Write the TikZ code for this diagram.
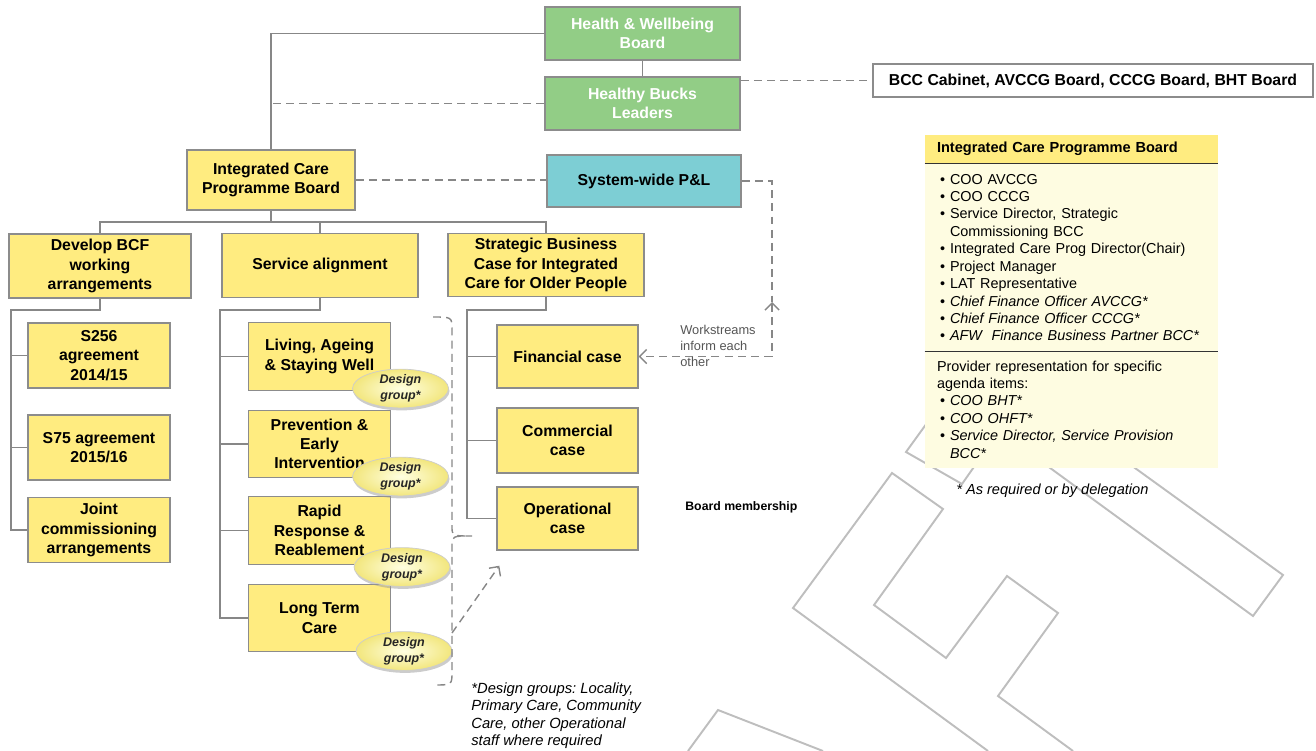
\documentclass[tikz,border=0pt]{standalone}
\usepackage{fontspec}
\setmainfont{Liberation Sans}
\frenchspacing
\usetikzlibrary{arrows.meta,shapes.geometric,shadows}
\definecolor{boxgreen}{RGB}{146,205,134}
\definecolor{boxyellow}{RGB}{255,236,128}
\definecolor{boxcyan}{RGB}{125,206,212}
\definecolor{boxedge}{RGB}{140,140,140}
\definecolor{linegray}{RGB}{135,135,135}
\definecolor{panelcream}{RGB}{254,252,225}
\definecolor{markgray}{RGB}{190,190,190}
\definecolor{notegray}{RGB}{85,85,85}
\definecolor{ovalin}{RGB}{255,255,225}
\definecolor{ovalout}{RGB}{242,230,125}
\newcommand{\pitem}[1]{\makebox[0.26cm][l]{\hspace{0.06cm}\textbullet}#1}
\newcommand{\pcont}[1]{\hspace*{0.26cm}#1}
\tikzset{
    org-box/.style = {draw=boxedge, line width=0.8pt, fill=boxyellow, rectangle, align=center, inner sep=2pt, font=\bfseries\fontsize{9}{11}\selectfont},
    green-box/.style = {org-box, fill=boxgreen, text=white, minimum width=3.9cm, minimum height=1.06cm},
    mid-box/.style = {org-box, minimum width=3.92cm, minimum height=1.27cm},
    leaf-box/.style = {org-box, minimum width=2.84cm, minimum height=1.3cm},
    design-oval/.style = {ellipse, draw=black!20, line width=0.4pt, inner color=ovalin, outer color=ovalout, minimum width=1.92cm, minimum height=0.68cm, inner sep=0pt, align=center, text=black!85, font=\bfseries\itshape\fontsize{7.1}{9}\selectfont, drop shadow={shadow xshift=0.6pt, shadow yshift=-1.4pt, fill=black!40, opacity=0.5}},
    tree-line/.style = {draw=linegray, line width=0.9pt},
    dash-line/.style = {draw=linegray, line width=0.8pt, dash pattern=on 4.5pt off 3pt},
    barb/.style = {-{Straight Barb[length=4pt,width=8pt]}},
    water-mark/.style = {draw=markgray, line width=1.1pt, line join=miter},
    note-text/.style = {inner sep=0pt, align=left},
    panel-head/.style = {fill=boxyellow, minimum width=5.86cm, minimum height=0.56cm, text width=5.38cm, inner xsep=0.24cm, inner ysep=0pt, align=left, font=\bfseries\fontsize{8.3}{10}\selectfont},
    panel-body/.style = {fill=panelcream, minimum width=5.86cm, text width=5.38cm, inner xsep=0.24cm, inner ysep=0pt, align=left, font=\fontsize{8.2}{9.92}\selectfont},
    panel-rule/.style = {draw=black!80, line width=0.9pt},
}

\begin{document}
\begin{tikzpicture}[x=0.02cm, y=-0.02cm]
\useasboundingbox (0,0) rectangle (1316,751);

\draw[water-mark] (988,751) -- (793,608) -- (892,473) -- (943,509) -- (874,605) -- (946,658) -- (1007,576) -- (1058,613) -- (998,696) -- (1073,751);
\draw[water-mark] (940,405) -- (906,452) -- (962,484) -- (990,444);
\draw[water-mark] (1020,446) -- (1253,616) -- (1283,575) -- (1099,442);
\draw[water-mark] (688,751) -- (718,710) -- (823,751);

\node[green-box] (hwb) at (642.5,33.5) {Health \& Wellbeing\\Board};
\node[green-box] (hbl) at (642.5,103.5) {Healthy Bucks\\Leaders};
\node[org-box, fill=white, minimum width=8.8cm, minimum height=0.66cm] (bcc) at (1093,80.5) {BCC Cabinet, AVCCG Board, CCCG Board, BHT Board};
\node[org-box, minimum width=3.36cm, minimum height=1.2cm] (icpb) at (271,180) {Integrated Care\\Programme Board};
\node[org-box, fill=boxcyan, minimum width=3.88cm, minimum height=1.04cm] (pl) at (644,181) {System-wide P\&L};

\node[org-box, minimum width=3.64cm, minimum height=1.28cm] (bcf) at (100,266) {Develop BCF\\working\\arrangements};
\node[mid-box] (sa) at (320,265.5) {Service alignment};
\node[mid-box] (sbc) at (546,265) {Strategic Business\\Case for Integrated\\Care for Older People};

\node[leaf-box] (s256) at (99,355.5) {S256\\agreement\\2014/15};
\node[leaf-box] (s75) at (99,447.5) {S75 agreement\\2015/16};
\node[leaf-box] (jca) at (99,530) {Joint\\commissioning\\arrangements};

\node[leaf-box, minimum height=1.35cm] (lasw) at (319.5,356.5) {Living, Ageing\\\& Staying Well};
\node[leaf-box, minimum height=1.35cm] (pei) at (319.5,444) {Prevention \&\\Early\\Intervention};
\node[leaf-box, minimum height=1.35cm] (rrr) at (319.5,530.5) {Rapid\\Response \&\\Reablement};
\node[leaf-box, minimum height=1.35cm] (ltc) at (319.5,618) {Long Term\\Care};

\node[leaf-box, minimum width=2.82cm, minimum height=1.26cm] (fin) at (567.5,356.5) {Financial case};
\node[leaf-box, minimum width=2.82cm] (com) at (567.5,440.5) {Commercial\\case};
\node[leaf-box, minimum width=2.82cm, minimum height=1.26cm] (opc) at (567.5,518.5) {Operational\\case};

\draw[tree-line] (hwb.west) -| (icpb.north);
\draw[tree-line] (hwb.south) -- (hbl.north);
\draw[dash-line] (hbl.west) -- (icpb.north |- hbl.west);
\draw[dash-line] (hbl.east |- bcc.west) -- (bcc.west);
\draw[dash-line] (icpb.east) -- (icpb.east -| pl.west);

\coordinate (wsmid) at (772,302);
\draw[dash-line] (pl.east) -| (wsmid);
\draw[dash-line, {Straight Barb[length=4pt,width=8pt]}-{Straight Barb[length=4pt,width=8pt]}] (wsmid) |- (fin.east);

\coordinate (topbus) at (271,222);
\draw[tree-line] (icpb.south) -- (topbus);
\draw[tree-line] (bcf.north) |- (sbc.north |- topbus) -- (sbc.north);
\draw[tree-line] (sa.north) -- (sa.north |- topbus);

\coordinate (bcfbus) at (11,310);
\draw[tree-line] (bcf.south) |- (bcfbus) |- (jca.west);
\foreach \b in {s256,s75} \draw[tree-line] (bcfbus |- \b.west) -- (\b.west);

\coordinate (sabus) at (220,310);
\draw[tree-line] (sa.south) |- (sabus) |- (ltc.west);
\foreach \b in {lasw,pei,rrr} \draw[tree-line] (sabus |- \b.west) -- (\b.west);

\coordinate (sbcbus) at (467,310);
\draw[tree-line] (sbc.south) |- (sbcbus) |- (opc.west);
\foreach \b in {fin,com} \draw[tree-line] (sbcbus |- \b.west) -- (\b.west);

\node[design-oval] (dg1) at (400.5,388.5) {Design\\group*};
\node[design-oval] (dg2) at (400.5,476.5) {Design\\group*};
\node[design-oval] (dg3) at (402,567) {Design\\group*};
\node[design-oval] (dg4) at (404,651) {Design\\group*};

\draw[dash-line] (433,317) .. controls (452,317) .. (452,330) -- (452,526) .. controls (452,536) .. (472,536) .. controls (452,536) .. (452,546) -- (452,672) .. controls (452,685) .. (433,685);
\coordinate (dgout) at (452,633);
\draw[dash-line, barb] (dgout) -- ([shift={(3,15)}]opc.south west);

\node[note-text, anchor=north west, text=notegray, font=\fontsize{7.3}{9}\selectfont] (wstext) at (680,325) {Workstreams\\inform each\\other};
\node[note-text, anchor=west, font=\bfseries\fontsize{7}{8}\selectfont] (bmlabel) at (685,507) {Board membership};
\node[note-text, anchor=north west, font=\itshape\fontsize{8.4}{10}\selectfont] (dgnote) at (471,682) {*Design groups: Locality,\\Primary Care, Community\\Care, other Operational\\staff where required};

\node[panel-head] (phead) at (1071.5,149) {Integrated Care Programme Board};
\node[panel-body, minimum height=3.74cm] (pbody) at (1071.5,257.5) {\pitem{COO AVCCG}\\
\pitem{COO CCCG}\\
\pitem{Service Director, Strategic}\\
\pcont{Commissioning BCC}\\
\pitem{Integrated Care Prog Director(Chair)}\\
\pitem{Project Manager}\\
\pitem{LAT Representative}\\
\pitem{\textit{Chief Finance Officer AVCCG*}}\\
\pitem{\textit{Chief Finance Officer CCCG*}}\\
\pitem{\textit{AFW~~Finance Business Partner BCC*}}};
\node[panel-body, minimum height=2.34cm] (pextra) at (1071.5,409.5) {Provider representation for specific\\
agenda items:\\
\pitem{\textit{COO BHT*}}\\
\pitem{\textit{COO OHFT*}}\\
\pitem{\textit{Service Director, Service Provision}}\\
\pcont{\textit{BCC*}}};
\draw[panel-rule] (phead.south west) -- (phead.south east);
\draw[panel-rule] (pbody.south west) -- (pbody.south east);
\node[note-text, anchor=west, font=\itshape\fontsize{8.3}{10}\selectfont] (asreq) at (956,491) {* As required or by delegation};
\end{tikzpicture}
\end{document}
